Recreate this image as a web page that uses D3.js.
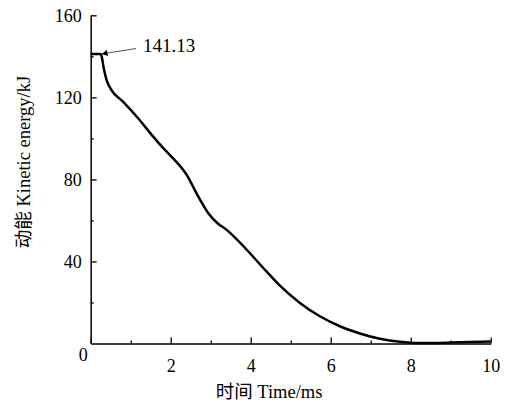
<!DOCTYPE html>
<html>
<head>
<meta charset="utf-8">
<script src="https://cdn.jsdelivr.net/npm/d3@7"></script>
<style>
  html, body { margin: 0; padding: 0; background: #fff; }
  svg { display: block; }
  text { font-family: "Liberation Serif", "Times New Roman", "Noto Sans CJK SC", serif; fill: #000; }
</style>
</head>
<body>
<svg id="chart" width="506" height="408"></svg>
<script>
// Kinetic energy of the impactor over time
const timeMs = [0, 0.25, 0.28, 0.32, 0.4, 0.52, 0.8, 1.19, 1.53, 1.82, 2.0, 2.4, 2.69, 2.94, 3.15, 3.4, 3.9, 4.4, 4.73, 5.23, 5.73, 6.23, 6.73, 7.23, 7.73, 8.2, 8.7, 9.2, 10];
const energyKJ = [141.13, 141.13, 139.5, 134.8, 128.3, 123.5, 118, 109.7, 101.6, 95.1, 91.5, 82.2, 71.6, 63.5, 59, 55.4, 45.7, 35.0, 28.2, 19.8, 13.3, 8.4, 4.9, 2.3, 0.8, 0.2, 0.3, 0.6, 1.0];
const peakLabel = "141.13";
const peakValue = 141.13;

const xMajorTicks = [0, 2, 4, 6, 8, 10];
const xMinorTicks = [1, 3, 5, 7, 9];
const yMajorTicks = [40, 80, 120, 160];
const yMinorTicks = [20, 60, 100, 140];

const xTitle = "时间 Time/ms";
const yTitle = "动能 Kinetic energy/kJ";

const svg = d3.select("#chart");
const plotLeft = 90.7, plotRight = 490.7, plotTop = 15.3, plotBottom = 343.5;

const x = d3.scaleLinear().domain([0, 10]).range([plotLeft, plotRight]);
const y = d3.scaleLinear().domain([0, 160]).range([plotBottom, plotTop]);

// minor ticks first, then major axes on top
svg.append("g")
  .attr("transform", `translate(0,${plotBottom})`)
  .call(d3.axisBottom(x).tickValues(xMinorTicks).tickSizeInner(-3).tickSizeOuter(0).tickFormat(""))
  .call(g => g.select(".domain").remove())
  .call(g => g.selectAll("line").attr("stroke-width", 1.3));

svg.append("g")
  .attr("transform", `translate(${plotLeft},0)`)
  .call(d3.axisLeft(y).tickValues(yMinorTicks).tickSizeInner(-3).tickSizeOuter(0).tickFormat(""))
  .call(g => g.select(".domain").remove())
  .call(g => g.selectAll("line").attr("stroke-width", 1.3));

const xAxis = svg.append("g")
  .attr("transform", `translate(0,${plotBottom})`)
  .call(d3.axisBottom(x).tickValues(xMajorTicks).tickSizeInner(-6).tickSizeOuter(0).tickPadding(16).tickFormat(d3.format("d")));
xAxis.select(".domain").attr("stroke-width", 1.5);
xAxis.selectAll("line").attr("stroke-width", 1.3);
xAxis.selectAll("text").attr("font-size", 18).attr("fill", "#000")
  .attr("font-family", "Liberation Serif, serif");
xAxis.selectAll(".tick").filter(d => d === 0).select("text")
  .attr("dx", -8).attr("dy", "0.1em");

const yAxis = svg.append("g")
  .attr("transform", `translate(${plotLeft},0)`)
  .call(d3.axisLeft(y).tickValues(yMajorTicks).tickSizeInner(-6).tickSizeOuter(0).tickPadding(9).tickFormat(d3.format("d")));
yAxis.select(".domain").attr("stroke-width", 1.5);
yAxis.selectAll("line").attr("stroke-width", 1.3);
yAxis.selectAll("text").attr("font-size", 18).attr("fill", "#000")
  .attr("font-family", "Liberation Serif, serif");

// energy curve
const line = d3.line()
  .x((d, i) => x(timeMs[i]))
  .y(d => y(d))
  .curve(d3.curveMonotoneX);

svg.append("path")
  .datum(energyKJ)
  .attr("d", line)
  .attr("fill", "none")
  .attr("stroke", "#000")
  .attr("stroke-width", 2.5)
  .attr("stroke-linejoin", "round");

// peak annotation with arrow
svg.append("defs").append("marker")
  .attr("id", "arrowHead")
  .attr("viewBox", "0 0 10 10")
  .attr("refX", 10).attr("refY", 5)
  .attr("markerWidth", 9).attr("markerHeight", 6)
  .attr("markerUnits", "userSpaceOnUse")
  .attr("orient", "auto")
  .append("path").attr("d", "M0,0L10,5L0,10Z").attr("fill", "#000");

svg.append("line")
  .attr("x1", 136).attr("y1", 48.5)
  .attr("x2", x(0.27)).attr("y2", y(peakValue))
  .attr("stroke", "#444").attr("stroke-width", 0.9)
  .attr("marker-end", "url(#arrowHead)");

svg.append("text")
  .attr("x", 143).attr("y", 52)
  .attr("font-size", 19)
  .text(peakLabel);

// axis titles
svg.append("text")
  .attr("x", 269).attr("y", 398)
  .attr("text-anchor", "middle")
  .attr("font-size", 18.5)
  .text(xTitle);

svg.append("text")
  .attr("transform", "translate(30,162) rotate(-90)")
  .attr("text-anchor", "middle")
  .attr("font-size", 18.5)
  .text(yTitle);
</script>
</body>
</html>
